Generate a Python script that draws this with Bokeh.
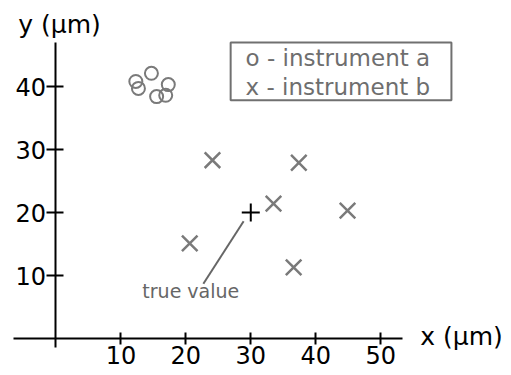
from bokeh.plotting import figure
from bokeh.models import (Range1d, LinearAxis, FixedTicker, Label,
                          BoxAnnotation, ColumnDataSource)
from bokeh.embed import file_html
from bokeh.resources import INLINE

# Repeated measurements of one position (micrometres)
inst_a_x = [12.3, 12.7, 14.7, 15.5, 17.3, 16.9]
inst_a_y = [40.8, 39.7, 42.1, 38.4, 40.3, 38.6]
inst_b_x = [24.1, 20.6, 37.4, 33.5, 44.9, 36.6]
inst_b_y = [28.3, 15.1, 27.9, 21.4, 20.3, 11.3]
true_x = [30]
true_y = [20]

x_ticks = [10, 20, 30, 40, 50]
y_ticks = [10, 20, 30, 40]

FONT = "DejaVu Sans"
GREY = "#7a7a7a"
TEXT_GREY = "#6e6e6e"

p = figure(width=511, height=375, output_backend="svg", toolbar_location=None,
           x_range=Range1d(-8.54, 70.15), y_range=Range1d(-5.87, 53.65),
           x_axis_location=None, y_axis_location=None,
           min_border=0, outline_line_color=None)
p.xgrid.visible = False
p.ygrid.visible = False
p.background_fill_color = "white"
p.border_fill_color = "white"

# Axes crossing at the origin
xaxis = LinearAxis(fixed_location=0, bounds=(-6.5, 53.4),
                   ticker=FixedTicker(ticks=x_ticks))
yaxis = LinearAxis(fixed_location=0, bounds=(-1.4, 47.0),
                   ticker=FixedTicker(ticks=y_ticks))
for ax in (xaxis, yaxis):
    ax.axis_line_color = "black"
    ax.axis_line_width = 2
    ax.major_tick_line_color = "black"
    ax.major_tick_line_width = 2
    ax.minor_tick_line_color = None
    ax.major_label_text_font = FONT
    ax.major_label_text_font_size = "24px"
    ax.major_label_text_color = "black"
xaxis.major_tick_in = 6
xaxis.major_tick_out = 6
xaxis.major_label_standoff = 1
yaxis.major_tick_in = 8
yaxis.major_tick_out = 9
yaxis.major_label_standoff = 1
p.add_layout(xaxis, "below")
p.add_layout(yaxis, "left")

src_a = ColumnDataSource(dict(x=inst_a_x, y=inst_a_y))
src_b = ColumnDataSource(dict(x=inst_b_x, y=inst_b_y))
src_t = ColumnDataSource(dict(x=true_x, y=true_y))

p.scatter("x", "y", source=src_a, marker="circle", size=13,
          fill_color=None, line_color=GREY, line_width=2)
p.scatter("x", "y", source=src_b, marker="x", size=22,
          line_color=GREY, line_width=2.5)
p.scatter("x", "y", source=src_t, marker="cross", size=18,
          line_color="black", line_width=2)

# Pointer from the label to the true value
p.segment(x0=[true_x[0] - 1.1], y0=[true_y[0] - 1.4], x1=[22.7], y1=[8.7],
          line_color="#666666", line_width=2)
p.add_layout(Label(x=13.3, y=7.5, text="true value", text_font=FONT,
                   text_font_size="19px", text_color="#666666",
                   text_baseline="middle"))

# Axis titles
p.add_layout(Label(x=-5.8, y=49.8, text="y (\u00b5m)", text_font=FONT,
                   text_font_size="25px", text_color="black",
                   text_baseline="middle"))
p.add_layout(Label(x=56.1, y=0.3, text="x (\u00b5m)", text_font=FONT,
                   text_font_size="25px", text_color="black",
                   text_baseline="middle"))

# Key
p.add_layout(BoxAnnotation(left=26.9, right=60.9, top=47.0, bottom=37.8,
                           fill_alpha=0, line_color="#707070", line_alpha=1,
                           line_width=2))
p.add_layout(Label(x=29.2, y=44.6, text="o - instrument a", text_font=FONT,
                   text_font_size="23px", text_color=TEXT_GREY,
                   text_baseline="middle"))
p.add_layout(Label(x=29.2, y=40.0, text="x - instrument b", text_font=FONT,
                   text_font_size="23px", text_color=TEXT_GREY,
                   text_baseline="middle"))

open("out.html", "w").write(file_html(p, INLINE))
